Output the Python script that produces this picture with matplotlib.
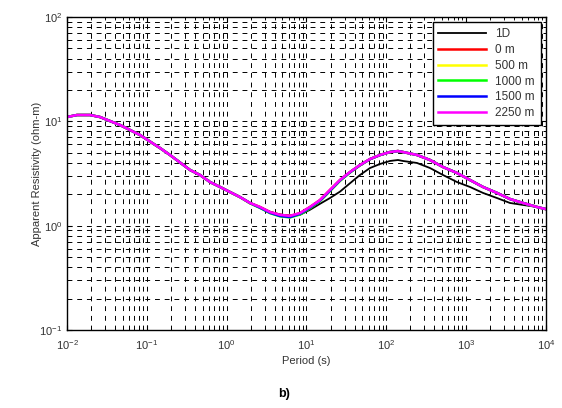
import numpy as np
import matplotlib
matplotlib.use("Agg")
import matplotlib.pyplot as plt
from matplotlib.ticker import FixedLocator, NullFormatter, LogFormatterSciNotation

plt.rcParams['font.family'] = ['Liberation Sans', 'DejaVu Sans']

# Period (s) sample points
period = [0.0100, 0.01334, 0.01941, 0.02589, 0.03456, 0.04612, 0.06152, 0.08206,
          0.1096, 0.1462, 0.1950, 0.2455, 0.3474, 0.4634, 0.6184, 0.8254,
          1.101, 1.469, 1.960, 2.616, 3.490, 4.656, 6.213, 8.290,
          11.06, 14.76, 19.70, 26.29, 35.08, 46.80, 62.46, 83.34,
          111.2, 140.0, 161.8, 242.2, 352.2, 512.3, 767.1, 1116,
          1625, 2434, 3541, 5153, 7722, 10000]

# 2D responses at the various offsets (magenta drawn last, on top)
rho_2250 = [11.00, 11.50, 11.50, 11.00, 10.07, 9.22, 8.26, 7.40,
            6.40, 5.55, 4.76, 4.17, 3.42, 3.06, 2.62, 2.35,
            2.10, 1.88, 1.65, 1.51, 1.35, 1.27, 1.24, 1.32,
            1.51, 1.76, 2.20, 2.74, 3.27, 3.81, 4.35, 4.76,
            5.08, 5.19, 5.08, 4.76, 4.26, 3.65, 3.20, 2.74,
            2.35, 2.06, 1.80, 1.65, 1.51, 1.44]
rho_0 = [11.00, 11.50, 11.50, 11.00, 10.07, 9.22, 8.26, 7.40,
         6.40, 5.55, 4.76, 4.17, 3.42, 3.06, 2.62, 2.35,
         2.10, 1.88, 1.65, 1.51, 1.35, 1.27, 1.24, 1.32,
         1.51, 1.76, 2.20, 2.74, 3.27, 3.81, 4.35, 4.76,
         5.08, 5.19, 5.08, 4.76, 4.26, 3.65, 3.20, 2.74,
         2.35, 2.06, 1.80, 1.65, 1.51, 1.44]
rho_500 = [11.00, 11.50, 11.50, 11.00, 10.07, 9.22, 8.26, 7.40,
           6.40, 5.55, 4.76, 4.17, 3.42, 3.06, 2.62, 2.35,
           2.10, 1.88, 1.64, 1.49, 1.33, 1.24, 1.21, 1.29,
           1.48, 1.73, 2.16, 2.70, 3.24, 3.79, 4.34, 4.75,
           5.08, 5.19, 5.08, 4.76, 4.26, 3.65, 3.20, 2.74,
           2.35, 2.06, 1.80, 1.65, 1.51, 1.44]
rho_1000 = [11.00, 11.50, 11.50, 11.00, 10.07, 9.22, 8.26, 7.40,
            6.40, 5.55, 4.76, 4.17, 3.42, 3.06, 2.62, 2.35,
            2.10, 1.88, 1.64, 1.48, 1.32, 1.23, 1.20, 1.28,
            1.47, 1.72, 2.15, 2.69, 3.23, 3.79, 4.34, 4.75,
            5.08, 5.19, 5.08, 4.76, 4.26, 3.65, 3.20, 2.74,
            2.35, 2.06, 1.80, 1.65, 1.51, 1.44]
rho_1500 = [11.00, 11.50, 11.50, 11.00, 10.07, 9.22, 8.26, 7.40,
            6.40, 5.55, 4.76, 4.17, 3.42, 3.06, 2.62, 2.35,
            2.10, 1.88, 1.65, 1.49, 1.33, 1.24, 1.21, 1.30,
            1.49, 1.74, 2.17, 2.72, 3.25, 3.80, 4.34, 4.75,
            5.08, 5.19, 5.08, 4.76, 4.26, 3.65, 3.20, 2.74,
            2.35, 2.06, 1.80, 1.65, 1.51, 1.44]
# 1D response
rho_1d = [11.00, 11.50, 11.50, 11.00, 10.07, 9.22, 8.26, 7.40,
          6.40, 5.55, 4.76, 4.17, 3.42, 3.06, 2.62, 2.35,
          2.10, 1.88, 1.65, 1.51, 1.36, 1.28, 1.25, 1.27,
          1.42, 1.62, 1.84, 2.12, 2.55, 3.06, 3.57, 3.90,
          4.17, 4.26, 4.17, 3.99, 3.57, 3.06, 2.62, 2.35,
          2.06, 1.84, 1.65, 1.58, 1.51, 1.44]

labels = ['1D', '0 m', '500 m', '1000 m', '1500 m', '2250 m']
colors = ['black', '#ff0000', '#ffff00', '#00ff00', '#0000ff', '#ff00ff']
series = [rho_1d, rho_0, rho_500, rho_1000, rho_1500, rho_2250]
widths = [1.3, 1.8, 1.8, 1.8, 1.8, 1.8]

x_major = [1e-2, 1e-1, 1e0, 1e1, 1e2, 1e3, 1e4]
y_major = [1e-1, 1e0, 1e1, 1e2]

fig = plt.figure(figsize=(5.62, 4.08), dpi=100)
ax = fig.add_axes([0.1192, 0.1912, 0.8523, 0.7671])

for s, c, lw, lab in zip(series, colors, widths, labels):
    ax.plot(period, s, color=c, lw=lw, label=lab)

ax.set_xscale('log')
ax.set_yscale('log')
ax.set_xlim(1e-2, 1e4)
ax.set_ylim(1e-1, 1e2)

x_minor = [m * d for d in x_major[:-1] for m in range(2, 10)]
y_minor = [m * d for d in y_major[:-1] for m in range(2, 10)]
ax.xaxis.set_major_locator(FixedLocator(x_major))
ax.yaxis.set_major_locator(FixedLocator(y_major))
ax.xaxis.set_minor_locator(FixedLocator(x_minor))
ax.yaxis.set_minor_locator(FixedLocator(y_minor))
ax.xaxis.set_major_formatter(LogFormatterSciNotation())
ax.yaxis.set_major_formatter(LogFormatterSciNotation())
ax.xaxis.set_minor_formatter(NullFormatter())
ax.yaxis.set_minor_formatter(NullFormatter())

ax.grid(True, which='both', color='black', linestyle=(0, (5, 5)), linewidth=0.7)
ax.tick_params(which='both', direction='in', top=True, right=True,
               labelsize=8, labelcolor='#333333')
ax.tick_params(axis='x', pad=6)
for sp in ax.spines.values():
    sp.set_linewidth(1.0)

ax.set_xlabel('Period (s)', fontsize=8, color='#333333', labelpad=3)
ax.set_ylabel('Apparent Resistivity (ohm-m)', fontsize=8, color='#333333', labelpad=-2)

leg = ax.legend(loc='upper right', fontsize=8.5, frameon=True, fancybox=False,
                edgecolor='black', framealpha=1, handlelength=4.0,
                borderaxespad=0.45, labelspacing=0.32, borderpad=0.5)
leg.get_frame().set_linewidth(1.0)
for t in leg.get_texts():
    t.set_color('#333333')

fig.text(0.505, 0.035, 'b)', ha='center', va='center', fontsize=9, fontweight='bold')

fig.savefig('out.png', dpi=100)
